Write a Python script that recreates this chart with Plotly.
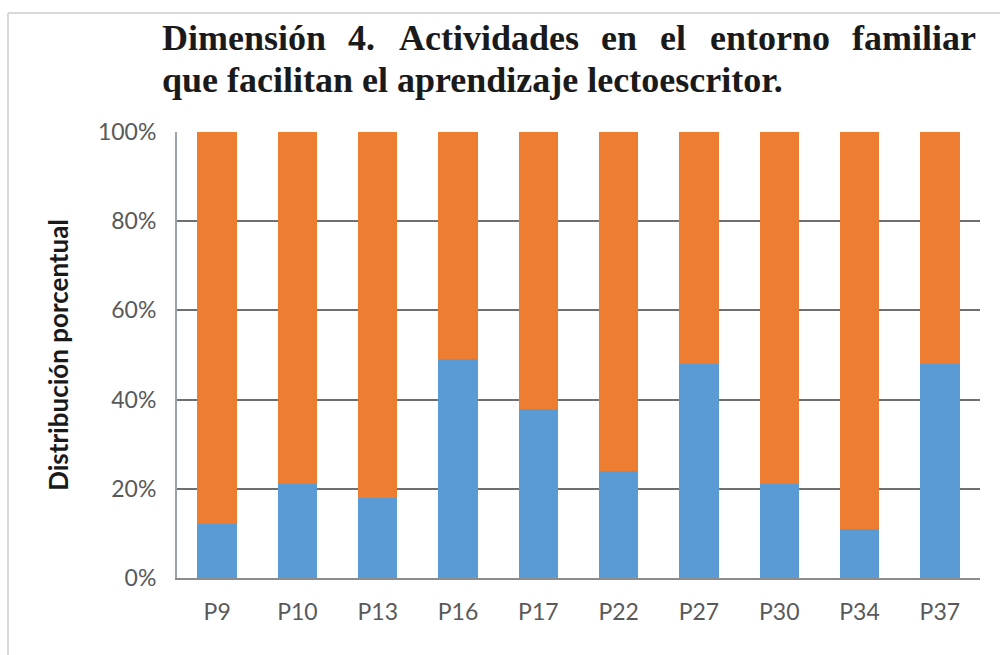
import plotly.graph_objects as go

# Items of dimension 4 and their percentage split (two response groups, stacked to 100%)
preguntas = ["P9", "P10", "P13", "P16", "P17", "P22", "P27", "P30", "P34", "P37"]
grupo_azul = [12, 21, 18, 49, 38, 24, 48, 21, 11, 48]
grupo_naranja = [88, 79, 82, 51, 62, 76, 52, 79, 89, 52]
y_ticks = [0, 20, 40, 60, 80, 100]
y_tick_labels = ["0%", "20%", "40%", "60%", "80%", "100%"]

W, H = 1000, 655
L, R, T, B = 177, 20, 132, 77
plot_w, plot_h = W - L - R, H - T - B


def px_x(x):
    return (x - L) / plot_w


def px_y(y):
    return (H - B - y) / plot_h


fig = go.Figure()
fig.add_trace(go.Bar(x=preguntas, y=grupo_azul, marker=dict(color="#5B9BD5", line=dict(width=0)),
                     name="Grupo 1"))
fig.add_trace(go.Bar(x=preguntas, y=grupo_naranja, marker=dict(color="#ED7D31", line=dict(width=0)),
                     name="Grupo 2"))

tick_font = dict(family="Lato, 'Open Sans', sans-serif", size=23, color="#595959")

fig.update_layout(
    width=W, height=H,
    margin=dict(l=L, r=R, t=T, b=B, pad=0),
    barmode="stack",
    bargap=0.51,
    showlegend=False,
    paper_bgcolor="white",
    plot_bgcolor="white",
    xaxis=dict(
        showgrid=False, showline=True, linecolor="#8c8c8c", linewidth=2,
        ticks="outside", ticklen=12, tickcolor="rgba(0,0,0,0)",
        tickfont=tick_font, zeroline=False,
    ),
    yaxis=dict(
        range=[0, 100], tickvals=y_ticks, ticktext=y_tick_labels,
        showgrid=True, gridcolor="#6f6f6f", gridwidth=1.5,
        showline=True, linecolor="#9aa3ad", linewidth=2,
        ticks="outside", ticklen=14, tickcolor="rgba(0,0,0,0)",
        tickfont=tick_font, zeroline=False,
        title=dict(text="<b>Distribución porcentual</b>", standoff=22,
                   font=dict(family="Lato, 'Open Sans', sans-serif", size=26, color="#1a1a1a")),
    ),
)

# Two-line title; the first line is justified across the width, word by word
title_font = dict(family="'Liberation Serif', 'Times New Roman', serif", size=36, color="#1a1a1a")
linea1 = [("Dimensión", 160), ("4.", 346), ("Actividades", 397), ("en", 599),
          ("el", 658), ("entorno", 708), ("familiar", 850)]
for palabra, x0 in linea1:
    fig.add_annotation(text=f"<b>{palabra}</b>", x=px_x(x0), y=px_y(38), xref="paper", yref="paper",
                       xanchor="left", yanchor="middle", showarrow=False, font=title_font)
fig.add_annotation(text="<b>que facilitan el aprendizaje lectoescritor.</b>", x=px_x(160), y=px_y(80),
                   xref="paper", yref="paper", xanchor="left", yanchor="middle", showarrow=False,
                   font=title_font)

# Thin frame around the chart area (top and left edges)
fig.add_shape(type="line", xref="paper", yref="paper", x0=px_x(8), x1=px_x(1000), y0=px_y(13), y1=px_y(13),
              line=dict(color="#d9d9d9", width=2))
fig.add_shape(type="line", xref="paper", yref="paper", x0=px_x(8), x1=px_x(8), y0=px_y(13), y1=px_y(655),
              line=dict(color="#d9d9d9", width=2))

fig.write_html("out.html")
